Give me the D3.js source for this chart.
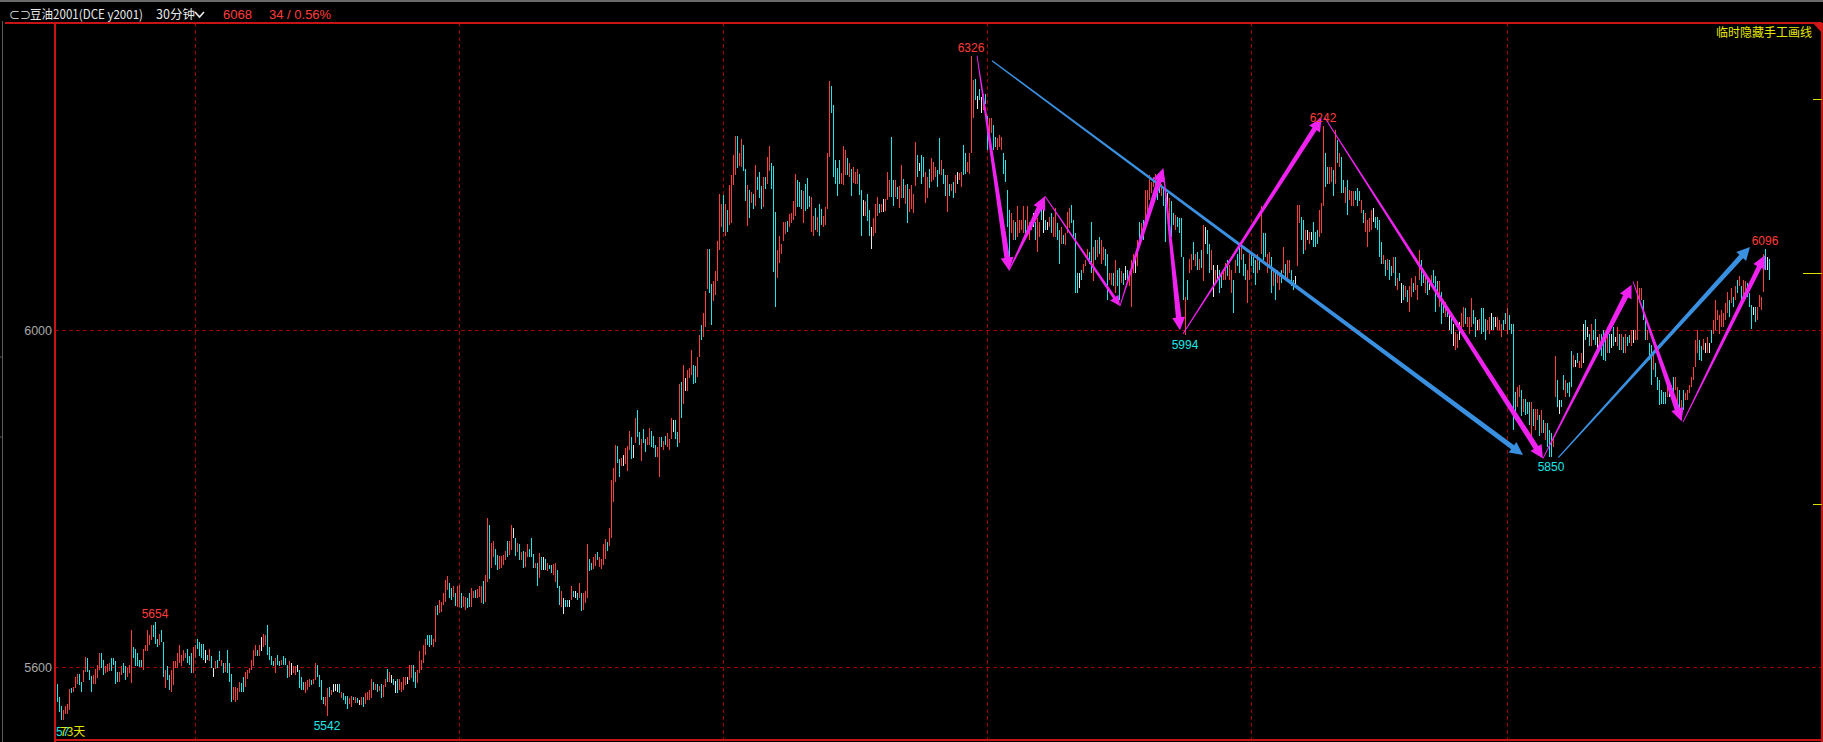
<!DOCTYPE html>
<html><head><meta charset="utf-8">
<script src="https://cdn.jsdelivr.net/npm/d3@7"></script>
<style>html,body{margin:0;padding:0;background:#000;overflow:hidden}</style>
</head><body>
<svg id="c" width="1823" height="742" xmlns="http://www.w3.org/2000/svg"></svg>
<script>
// ---- data: 30-minute bars of 豆油2001, 73 days (high, low, direction r=up c=down w=flat)
const highs = [
5580,5565,5554,5549,5554,5556,5574,5575,5577,5589,
5592,5592,5583,5597,5612,5611,5597,5590,5591,5598,
5603,5617,5617,5609,5602,5604,5605,5611,5611,5607,
5594,5594,5602,5605,5602,5599,5603,5644,5624,5622,
5617,5609,5609,5622,5626,5644,5638,5650,5650,5654,
5634,5640,5644,5630,5597,5601,5591,5597,5607,5607,
5617,5626,5615,5620,5617,5622,5613,5617,5624,5626,
5634,5630,5628,5628,5620,5615,5622,5613,5599,5607,
5609,5619,5609,5605,5605,5620,5605,5592,5577,5577,
5575,5583,5581,5589,5595,5597,5599,5609,5620,5626,
5620,5626,5636,5640,5638,5650,5624,5613,5607,5611,
5615,5607,5609,5613,5611,5603,5607,5605,5601,5601,
5603,5597,5589,5583,5583,5585,5586,5585,5586,5605,
5603,5591,5585,5565,5565,5576,5577,5573,5580,5580,
5580,5580,5571,5569,5566,5566,5563,5566,5565,5565,
5563,5561,5565,5565,5569,5571,5573,5586,5582,5580,
5580,5578,5580,5579,5586,5598,5595,5591,5586,5584,
5586,5586,5582,5589,5589,5589,5603,5603,5603,5595,
5597,5619,5609,5626,5634,5638,5638,5638,5634,5673,
5674,5680,5678,5688,5704,5708,5700,5694,5696,5688,
5696,5698,5688,5685,5684,5682,5688,5694,5691,5692,
5693,5696,5697,5703,5709,5777,5769,5747,5750,5740,
5733,5732,5732,5733,5738,5750,5750,5769,5765,5754,
5748,5746,5737,5738,5737,5746,5740,5754,5735,5724,
5724,5736,5731,5731,5729,5724,5722,5722,5723,5724,
5716,5697,5691,5682,5680,5680,5680,5697,5691,5691,
5688,5700,5688,5688,5691,5746,5729,5724,5731,5735,
5737,5731,5729,5746,5752,5749,5765,5822,5837,5864,
5863,5847,5849,5852,5860,5863,5881,5873,5864,5896,
5905,5879,5871,5883,5871,5873,5884,5881,5875,5864,
5862,5873,5873,5869,5875,5878,5871,5896,5894,5894,
5879,5936,5939,5959,5943,5953,5955,5977,5959,5958,
5968,5994,6006,6020,6047,6096,6096,6055,6059,6070,
6106,6162,6150,6161,6150,6143,6173,6184,6208,6231,
6231,6211,6227,6220,6191,6173,6167,6164,6162,6196,
6182,6188,6171,6182,6182,6206,6219,6199,6195,6140,
6095,6112,6103,6129,6129,6130,6138,6139,6153,6186,
6178,6176,6167,6165,6174,6181,6159,6158,6136,6145,
6134,6150,6144,6136,6146,6211,6296,6290,6267,6202,
6193,6202,6187,6219,6214,6205,6199,6191,6194,6188,
6191,6186,6167,6155,6153,6162,6143,6123,6133,6150,
6158,6150,6150,6156,6156,6188,6178,6229,6178,6178,
6170,6171,6196,6179,6172,6174,6168,6172,6162,6223,
6208,6199,6208,6206,6188,6182,6192,6204,6200,6194,
6190,6228,6202,6192,6184,6184,6174,6174,6176,6184,
6188,6187,6188,6220,6210,6200,6210,6326,6297,6298,
6278,6287,6277,6281,6281,6254,6252,6252,6244,6230,
6228,6232,6230,6210,6202,6167,6143,6139,6131,6129,
6147,6131,6131,6147,6131,6147,6129,6129,6139,6129,
6133,6129,6151,6151,6131,6129,6135,6139,6135,6145,
6127,6119,6123,6113,6115,6141,6145,6149,6131,6115,
6068,6068,6072,6079,6083,6097,6093,6129,6099,6107,
6107,6111,6107,6099,6097,6091,6068,6068,6068,6084,
6072,6074,6070,6068,6076,6072,6070,6083,6091,6091,
6107,6129,6127,6131,6167,6167,6184,6176,6182,6186,
6182,6172,6174,6169,6159,6163,6157,6153,6139,6137,
6135,6133,6133,6087,6040,6060,6085,6091,6105,6091,
6093,6085,6095,6125,6123,6119,6103,6095,6078,6072,
6078,6072,6068,6072,6080,6083,6078,6072,6060,6083,
6091,6099,6099,6091,6079,6072,6091,6091,6087,6083,
6091,6083,6147,6115,6115,6091,6093,6087,6072,6072,
6072,6068,6072,6099,6079,6083,6083,6072,6060,6064,
6149,6149,6135,6131,6119,6119,6117,6117,6129,6117,
6119,6143,6151,6242,6210,6194,6194,6194,6190,6238,
6226,6210,6206,6178,6170,6178,6167,6165,6165,6165,
6169,6165,6155,6143,6139,6131,6133,6143,6145,6135,
6135,6131,6105,6089,6083,6085,6083,6076,6087,6087,
6062,6068,6056,6054,6052,6048,6052,6062,6056,6064,
6054,6095,6083,6068,6068,6064,6058,6066,6072,6064,
6058,6058,6046,6036,6034,6028,6024,6020,6008,5998,
5996,6010,6020,6028,6026,6016,6016,6038,6024,6016,
6012,6014,6026,6026,6014,6012,6016,6020,6016,6016,
6016,6012,6008,6012,6020,6026,6018,6008,6008,5927,
5933,5935,5929,5919,5919,5915,5915,5915,5907,5907,
5907,5899,5905,5893,5890,5890,5882,5878,5874,5969,
5941,5917,5917,5947,5941,5937,5939,5975,5971,5965,
5973,5963,5973,6008,6012,6004,5996,6008,6000,6014,
5992,5996,5996,6000,5996,6004,5996,5996,6004,5992,
6004,5996,5996,5992,5996,5992,5994,6000,6000,6000,
6058,6050,6050,6036,6012,6000,5985,5983,5971,5961,
5945,5941,5929,5927,5927,5933,5931,5935,5945,5945,
5933,5929,5917,5929,5925,5929,5935,5945,5957,5988,
6000,5988,5981,5990,5985,5992,5985,6000,6012,6036,
6024,6018,6024,6020,6032,6046,6036,6050,6040,6052,
6060,6064,6052,6060,6058,6056,6044,6030,6028,6028,
6028,6042,6040,6091,6096,6087,6085
];
const lows = [
5559,5547,5537,5537,5545,5545,5549,5569,5571,5575,
5580,5579,5571,5583,5594,5595,5585,5571,5580,5580,
5587,5597,5599,5591,5593,5595,5596,5596,5603,5580,
5582,5583,5591,5593,5585,5589,5593,5581,5611,5601,
5601,5600,5600,5597,5619,5619,5626,5632,5636,5628,
5624,5626,5630,5589,5575,5585,5573,5571,5579,5599,
5599,5605,5601,5607,5611,5605,5603,5593,5593,5611,
5622,5613,5611,5609,5605,5609,5607,5599,5589,5598,
5599,5607,5601,5593,5595,5593,5583,5559,5561,5559,
5561,5571,5571,5571,5577,5586,5593,5597,5601,5613,
5613,5613,5619,5624,5626,5615,5609,5603,5601,5593,
5603,5601,5603,5603,5603,5587,5589,5591,5593,5591,
5595,5575,5573,5573,5569,5573,5577,5579,5580,5585,
5589,5577,5561,5557,5554,5542,5565,5567,5571,5572,
5571,5569,5563,5561,5557,5551,5556,5553,5561,5558,
5558,5555,5555,5553,5556,5561,5561,5563,5573,5573,
5571,5572,5563,5565,5577,5583,5583,5581,5579,5569,
5569,5573,5571,5573,5579,5580,5585,5587,5583,5575,
5581,5593,5597,5605,5615,5626,5624,5626,5624,5630,
5662,5664,5666,5674,5678,5692,5682,5680,5684,5673,
5671,5672,5670,5672,5668,5670,5672,5672,5682,5682,
5682,5684,5676,5675,5678,5701,5705,5718,5731,5722,
5715,5717,5718,5722,5727,5731,5733,5739,5754,5732,
5737,5727,5727,5718,5719,5731,5731,5731,5718,5718,
5697,5706,5716,5715,5716,5714,5717,5712,5710,5701,
5694,5674,5672,5663,5672,5672,5672,5680,5684,5682,
5680,5682,5667,5668,5676,5682,5714,5715,5717,5720,
5727,5719,5717,5722,5729,5738,5744,5754,5796,5820,
5843,5826,5839,5839,5841,5833,5858,5847,5849,5866,
5873,5864,5845,5866,5856,5864,5864,5862,5860,5850,
5850,5826,5862,5858,5864,5862,5858,5871,5879,5871,
5861,5866,5896,5913,5928,5928,5943,5947,5936,5938,
5945,5968,5989,5992,6004,6049,6044,6006,6035,6042,
6059,6095,6123,6117,6112,6117,6125,6127,6173,6184,
6193,6195,6194,6189,6153,6124,6133,6151,6144,6148,
6167,6157,6144,6146,6168,6174,6189,6168,6069,6028,
6062,6080,6091,6106,6114,6117,6123,6127,6131,6136,
6146,6146,6144,6127,6142,6144,6146,6117,6112,6119,
6117,6112,6125,6123,6125,6144,6206,6258,6182,6174,
6159,6174,6174,6173,6184,6184,6182,6159,6175,6174,
6174,6161,6112,6136,6136,6130,6112,6097,6112,6116,
6136,6139,6141,6141,6142,6155,6158,6158,6148,6158,
6156,6145,6157,6157,6150,6127,6141,6144,6139,6171,
6182,6189,6174,6182,6151,6157,6169,6176,6178,6182,
6170,6186,6184,6174,6159,6141,6159,6165,6157,6163,
6174,6178,6170,6184,6186,6188,6186,6210,6252,6273,
6263,6273,6258,6262,6269,6214,6226,6234,6214,6218,
6214,6218,6214,6186,6176,6123,6076,6115,6107,6107,
6111,6115,6119,6115,6111,6119,6107,6119,6123,6107,
6093,6111,6131,6115,6119,6119,6123,6115,6111,6111,
6107,6079,6103,6103,6101,6115,6121,6127,6111,6044,
6044,6050,6060,6068,6076,6083,6079,6068,6058,6083,
6087,6091,6079,6083,6076,6036,6060,6054,6052,6044,
6052,6036,6056,6054,6060,6060,6052,6028,6068,6068,
6076,6107,6107,6107,6123,6139,6155,6163,6170,6167,
6155,6163,6159,6147,6105,6137,6115,6111,6125,6119,
6123,6115,6087,6036,5994,6036,6068,6072,6083,6076,
6072,6072,6074,6058,6103,6091,6068,6072,6040,6056,
6060,6044,6050,6060,6060,6064,6060,6044,6020,6068,
6076,6068,6083,6064,6060,6032,6060,6076,6068,6054,
6068,6072,6091,6083,6087,6068,6076,6044,6052,6036,
6056,6048,6056,6068,6060,6060,6068,6052,6048,6052,
6076,6127,6107,6091,6095,6107,6103,6107,6099,6099,
6103,6111,6115,6147,6170,6174,6174,6176,6159,6174,
6198,6194,6163,6163,6151,6137,6155,6147,6147,6155,
6147,6153,6139,6127,6117,6099,6117,6119,6129,6121,
6119,6087,6079,6079,6064,6072,6060,6064,6068,6052,
6048,6058,6032,6036,6040,6034,6022,6040,6046,6048,
6036,6060,6052,6056,6044,6042,6048,6052,6056,6022,
6040,6028,6008,6020,6016,6016,6000,5996,5981,5977,
5979,5988,6000,6004,6008,6004,5996,6004,6008,5992,
6000,6000,5996,5998,5988,6000,5996,6000,6000,6004,
6000,6000,5992,6000,6008,5996,6000,5996,5882,5894,
5909,5921,5898,5903,5899,5901,5888,5874,5886,5882,
5894,5874,5878,5878,5870,5862,5850,5850,5862,5921,
5909,5901,5909,5929,5921,5925,5921,5933,5957,5957,
5961,5955,5955,5961,5988,5992,5981,5981,5988,5983,
5977,5981,5969,5965,5963,5973,5973,5979,5981,5986,
5981,5977,5977,5973,5973,5981,5985,5981,5985,5988,
5988,6032,6036,6012,5988,5988,5965,5935,5953,5945,
5929,5911,5913,5913,5913,5921,5921,5921,5925,5929,
5909,5898,5894,5905,5917,5917,5925,5933,5941,5957,
5973,5965,5963,5977,5973,5973,5973,5985,5996,6000,
6012,5996,6004,6004,6012,6020,6016,6032,6028,6036,
6044,6052,6032,6040,6044,6040,6028,6002,6018,6010,
6012,6028,6024,6046,6072,6072,6060
];
const dirs = [
"cccrrrrcrr","rccrrccc rr".replace(" ",""),"rrccrrrccc","crrccrrrcc","cccrrrrrcc",
"crccrccrrr","rrrrrcccrr","ccccwcrcwr","ccrcrcccrr","rrccrrrrrr",
"crwrrccccr","ccrcccrwrr","wcccrrrcrr","ccccrrcrww","wcrcccrrcr",
"cwrcrrrrcr","crcrrcrwcw","crrrrwrrcc","rrrrrcccrr","crrrrrccrc",
"rrcrrccrrc","rrrcrrcrrc","crrrrcrrwc","rcrcrrcccr","crcwcrccrr",
"ccrwccwrcw","crcrrrccrr","crrrrcrrrr","ccrwrrrcwr","ccrccrrccc",
"rrcrcrrrwc","crcrwrrrcc","rrcrrrccrr","rrrcrcrrrr","crrccrcrcr",
"cccrcrrccc","rrrrrcrrrr","cccrcccrrc","rccrrrrccc","ccrrrcrcrr",
"rccwrccwrr","rcrwrrrccr","crrcrcrrrr","cwccrrcrr".concat("r"),"ccrccrcrcr",
"wrrccrrrrc","wcwrccrrcc","rrrccccrrc","rrrrcrrrwc","rrcwcwrcrr",
"ccrcrrrccc","cwcrrrccrc","rcrrccrrcr","ccrcwcrrrw","rcrcrrrrrr",
"ccrccwrccr","ccccrcrrcr","crcrwccrwr","wccrrcrrcr","ccrccrrccc",
"rcrccrrcrc","rrcrcrrccw","rrccrwrwcc","crrrccrrcr","crccrcrrrc",
"ccrcrrrrwc","cccrcrccrc","rcwcrcrrcr","rrccrcwrcc","crccrcwcwr",
"rwrrcrrrcc","wrccc rrwcw".replace(" ",""),"rrrccrccc c".replace(" ",""),"rrcrcccrcr",
"rcrcrcccrr","cwccrcccrw","crrwcwcrcc","wrcccrcwcw","rcrcrccrwr",
"rrrccrccrc","cccccrwrcr","rcrcrrrrrr","rccrwrwcrr","rrrrrrcrcr",
"crcrrccc wc".replace(" ",""),"rrrrcwc"
].join("");
const yTicks = [6000, 5600];
const gridBars = [69, 201, 333, 465, 597, 725];
const highLabels = [[49, 5654], [457, 6326], [633, 6242], [854, 6096]];
const lowLabels = [[135, 5542], [564, 5994], [747, 5850]];
const rightMarks = [6274, 5794];
const lastClose = 6068, change = 34, changePct = "0.56%";
// hand-drawn arrows [fromBar, fromPrice, toBar, toPrice, endWidth]
const magentaArrows = [
  [460, 6326, 476, 6071, 5.5],
  [476, 6071, 494, 6159, 5.5],
  [494, 6159, 531.5, 6029, 3],
  [531.5, 6029, 553, 6192, 5.5],
  [553, 6192, 561.5, 6000, 5.5],
  [563, 5996, 632.3, 6252, 5],
  [634, 6252, 743, 5848, 5.5],
  [743, 5848, 787.3, 6054, 5.5],
  [788, 6058, 812.3, 5892, 5.5],
  [813, 5891, 854, 6089, 5]
];
const blueArrows = [
  [467.5, 6320, 733, 5852, 5],
  [750.7, 5849, 846.5, 6099, 5]
];

// ---- drawing
const W = 1823, H = 742;
const svg = d3.select("#c");
const RED = "#ff3c3c", CYAN = "#1ee6e6", WHITE = "#e8e8e8";
const colorOf = d => d === "r" ? RED : d === "c" ? CYAN : WHITE;

const x = d3.scaleLinear().domain([0, 856]).range([57, 1769]);
const y = d3.scaleLinear().domain([5600, 6000]).range([667.3, 330.3]);
const plotL = 55, plotR = 1822, plotT = 23, plotB = 740;

svg.append("rect").attr("width", W).attr("height", H).attr("fill", "#000");
// top gray band and left gray splitter
svg.append("rect").attr("x", 0).attr("y", 0).attr("width", W).attr("height", 2).attr("fill", "#6a6a6a");
svg.append("line").attr("x1", 2.5).attr("x2", 2.5).attr("y1", 21).attr("y2", H).attr("stroke", "#5a5a5a").attr("stroke-width", 1);
svg.append("line").attr("x1", 0).attr("x2", 2.5).attr("y1", 357).attr("y2", 357).attr("stroke", "#5a5a5a");
svg.append("line").attr("x1", 0).attr("x2", 2.5).attr("y1", 437).attr("y2", 437).attr("stroke", "#5a5a5a");

// grid lines
const grid = svg.append("g").attr("stroke", "#9a0000").attr("stroke-dasharray", "4,3").attr("shape-rendering", "crispEdges");
grid.selectAll("line.h").data(yTicks).join("line")
  .attr("x1", plotL).attr("x2", plotR).attr("y1", d => Math.round(y(d)) + 0.5).attr("y2", d => Math.round(y(d)) + 0.5);
grid.selectAll("line.v").data(gridBars).join("line")
  .attr("x1", d => Math.round(x(d)) + 0.5).attr("x2", d => Math.round(x(d)) + 0.5).attr("y1", plotT).attr("y2", plotB);

// axis labels via d3 axis
const axis = d3.axisLeft(y).tickValues(yTicks).tickSize(0).tickPadding(3).tickFormat(d3.format("d"));
const ag = svg.append("g").attr("transform", `translate(${plotL},0)`).call(axis);
ag.select(".domain").remove();
ag.selectAll("text").attr("fill", "#a8a8a8").attr("font-family", "Liberation Sans, Arial, sans-serif").attr("font-size", 12.5);

// bars
const N = highs.length;
const idx = d3.range(N);
svg.append("g").attr("shape-rendering", "crispEdges").selectAll("rect").data(idx).join("rect")
  .attr("x", i => Math.round(x(i)))
  .attr("width", 1)
  .attr("y", i => Math.round(y(highs[i])))
  .attr("height", i => Math.max(1, Math.round(y(lows[i])) - Math.round(y(highs[i]))))
  .attr("fill", i => colorOf(dirs[i]));

// tapered arrows
function arrowPath(x0, y0, x1, y1, w0, w1, hl, hw) {
  const dx = x1 - x0, dy = y1 - y0, L = Math.hypot(dx, dy);
  const ux = dx / L, uy = dy / L, nx = -uy, ny = ux;
  const bx = x1 - ux * hl, by = y1 - uy * hl;
  const p = [
    [x0 + nx * w0 / 2, y0 + ny * w0 / 2],
    [bx + nx * w1 / 2, by + ny * w1 / 2],
    [bx + nx * hw, by + ny * hw],
    [x1, y1],
    [bx - nx * hw, by - ny * hw],
    [bx - nx * w1 / 2, by - ny * w1 / 2],
    [x0 - nx * w0 / 2, y0 - ny * w0 / 2]
  ];
  return "M" + p.map(q => q[0].toFixed(1) + "," + q[1].toFixed(1)).join("L") + "Z";
}
svg.append("g").selectAll("path").data(blueArrows).join("path")
  .attr("d", a => arrowPath(x(a[0]), y(a[1]), x(a[2]), y(a[3]), 1.2, a[4], 13, 6.5))
  .attr("fill", "#3a90e0");
svg.append("g").selectAll("path").data(magentaArrows).join("path")
  .attr("d", a => arrowPath(x(a[0]), y(a[1]), x(a[2]), y(a[3]), 0.9, a[4], a[4] < 4 ? 10 : 13, a[4] < 4 ? 5 : 6.5))
  .attr("fill", "#f022f0");

// peak labels
const lf = "Liberation Sans, Arial, sans-serif";
svg.append("g").selectAll("text").data(highLabels).join("text")
  .attr("x", d => x(d[0])).attr("y", d => y(d[1]) - 4).attr("text-anchor", "middle")
  .attr("font-family", lf).attr("font-size", 12).attr("fill", RED).text(d => d[1]);
svg.append("g").selectAll("text").data(lowLabels).join("text")
  .attr("x", d => x(d[0])).attr("y", d => y(d[1]) + 14).attr("text-anchor", "middle")
  .attr("font-family", lf).attr("font-size", 12).attr("fill", CYAN).text(d => d[1]);

// frame
const fr = svg.append("g").attr("stroke", "#c81414").attr("stroke-width", 1.2).attr("shape-rendering", "crispEdges");
fr.append("line").attr("x1", 5).attr("x2", plotR).attr("y1", plotT).attr("y2", plotT);
fr.append("line").attr("x1", plotL).attr("x2", plotL).attr("y1", plotT).attr("y2", H);
fr.append("line").attr("x1", plotL).attr("x2", plotR).attr("y1", plotB).attr("y2", plotB);
fr.append("line").attr("x1", plotR).attr("x2", plotR).attr("y1", plotT).attr("y2", H);
svg.append("path").attr("d", `M${plotR - 9},${plotT}L${plotR},${plotT}L${plotR},${plotT + 10}Z`).attr("fill", "#d01818");

// right-edge marks
svg.append("line").attr("x1", 1803).attr("x2", plotR).attr("y1", Math.round(y(lastClose)) + 0.5).attr("y2", Math.round(y(lastClose)) + 0.5).attr("stroke", "#e0e000");
svg.selectAll("line.rm").data(rightMarks).join("line")
  .attr("x1", 1813).attr("x2", plotR).attr("y1", d => Math.round(y(d)) + 0.5).attr("y2", d => Math.round(y(d)) + 0.5).attr("stroke", "#e0e000");

// header
const hf = "Noto Sans CJK SC, sans-serif";
const hdr = svg.append("g").attr("font-family", hf).attr("font-size", 12.5);
hdr.append("text").attr("x", 9).attr("y", 19).attr("fill", "#e8e8e8").attr("font-size", 11).text("⊂⊃");
hdr.append("text").attr("x", 30).attr("y", 19).attr("fill", "#e8e8e8").attr("textLength", 113).attr("lengthAdjust", "spacingAndGlyphs").text("豆油2001(DCE y2001)");
hdr.append("text").attr("x", 156).attr("y", 19).attr("fill", "#e8e8e8").text("30分钟");
hdr.append("path").attr("d", "M195,12L199.5,17L204,12").attr("fill", "none").attr("stroke", "#e8e8e8").attr("stroke-width", 1.6);
hdr.append("text").attr("x", 223).attr("y", 19).attr("fill", RED).attr("font-family", lf).attr("font-size", 13).text(lastClose);
hdr.append("text").attr("x", 269).attr("y", 19).attr("fill", RED).attr("font-family", lf).attr("font-size", 13).text(`${change} / ${changePct}`);
svg.append("text").attr("x", 1812).attr("y", 37).attr("text-anchor", "end").attr("fill", "#e6e600")
  .attr("font-family", hf).attr("font-size", 12).text("临时隐藏手工画线");

// bottom-left day count
svg.append("text").attr("x", 56).attr("y", 736).attr("fill", CYAN).attr("font-family", lf).attr("font-size", 12).text("57");
svg.append("text").attr("x", 60).attr("y", 736).attr("fill", "#e6e600").attr("font-family", hf).attr("font-size", 12).text("73天");
</script>
</body></html>
